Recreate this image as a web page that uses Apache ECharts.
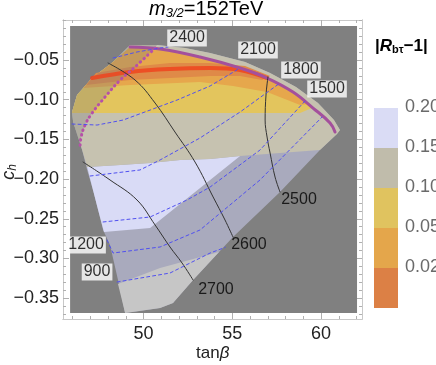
<!DOCTYPE html>
<html>
<head>
<meta charset="utf-8">
<script src="https://cdn.jsdelivr.net/npm/echarts@6/dist/echarts.min.js"></script>
<style>
html, body { margin: 0; background: #fff; }
#chart { width: 436px; height: 365px; }
</style>
</head>
<body>
<div id="chart"></div>
<script>
// plotted range of the scan (tan beta, c_h)
const plotX = [45.86, 62.03];
const plotY = [-0.3686, -0.0072];

// outline of the scanned region
const domain = [[49.24,-0.0311],[50.76,-0.0311],[52.34,-0.0349],[53.75,-0.0412],[55.72,-0.0525],[57.13,-0.0664],
  [58.59,-0.0840],[59.83,-0.1042],[60.73,-0.1256],[61.07,-0.1382],[60.90,-0.1432],[59.94,-0.1634],[57.69,-0.2162],
  [55.04,-0.2729],[52.79,-0.3271],[51.66,-0.3560],[50.93,-0.3623],[48.96,-0.3686],[48.56,-0.3271],[48.11,-0.2830],
  [47.72,-0.2641],[47.44,-0.2389],[47.15,-0.2137],[46.82,-0.1885],[46.54,-0.1634],[46.03,-0.1281],[45.97,-0.1155],
  [46.25,-0.0941],[47.10,-0.0727],[48.28,-0.0525]];

// lower light-grey patch
const greyPatch = [[48.56,-0.3322],[50.93,-0.3120],[54.25,-0.2918],[52.79,-0.3271],[51.66,-0.3560],[50.93,-0.3623],[48.96,-0.3686]];

// |R-1| bands
const band20 = [[46.82,-0.1848],[48.68,-0.1822],[50.37,-0.1797],[52.06,-0.1759],[53.75,-0.1747],[55.44,-0.1709],
  [50.37,-0.2616],[47.77,-0.2666],[47.44,-0.2389],[47.15,-0.2137]];
const band15 = [[46.82,-0.1848],[48.68,-0.1822],[50.37,-0.1797],[52.06,-0.1759],[53.75,-0.1747],[55.44,-0.1709],
  [59.94,-0.1634],[60.90,-0.1432],[61.07,-0.1382],[60.73,-0.1256],[59.83,-0.1042],[58.59,-0.0840],[57.13,-0.0664],
  [55.72,-0.0525],[53.75,-0.0412],[52.34,-0.0349],[50.76,-0.0311],[49.24,-0.0311],[48.28,-0.0525],[47.10,-0.0727],
  [46.25,-0.0941],[45.97,-0.1155],[46.03,-0.1281],[46.54,-0.1634]];
const band10 = [[45.97,-0.1168],[53.18,-0.1168],[58.82,-0.1168],[59.49,-0.1105],[59.55,-0.1105],[58.42,-0.0903],
  [56.96,-0.0727],[55.44,-0.0601],[53.18,-0.0462],[50.93,-0.0361],[49.24,-0.0336],[48.28,-0.0525],[47.10,-0.0727],
  [46.25,-0.0941],[45.97,-0.1155]];
const band05 = [[46.59,-0.0853],[49.24,-0.0815],[53.18,-0.0777],[55.04,-0.0827],[56.96,-0.0903],[58.82,-0.1067],
  [59.27,-0.1054],[58.42,-0.0903],[56.96,-0.0727],[55.44,-0.0601],[53.18,-0.0462],[50.93,-0.0361],[49.24,-0.0336],
  [48.28,-0.0525],[47.10,-0.0727]];
const band02 = [[47.32,-0.0664],[49.24,-0.0588],[51.49,-0.0538],[53.75,-0.0538],[55.72,-0.0576],[57.13,-0.0702],
  [56.68,-0.0752],[55.44,-0.0702],[53.75,-0.0702],[51.49,-0.0727],[49.24,-0.0752],[46.76,-0.0815]];

// R = 1 line, upper boundary and excluded strip
const exactLine = [[47.10,-0.0727],[49.24,-0.0651],[51.49,-0.0613],[53.75,-0.0601],[55.44,-0.0626],[56.96,-0.0727]];
const edgeLine = [[49.24,-0.0336],[50.93,-0.0361],[53.18,-0.0462],[55.44,-0.0601],[56.96,-0.0727],[58.42,-0.0903],
  [59.55,-0.1105],[60.51,-0.1293],[60.79,-0.1407]];
const limitLine = [[50.65,-0.0349],[49.52,-0.0588],[48.68,-0.0752],[47.83,-0.0966],[47.10,-0.1168],[46.70,-0.1319],
  [46.48,-0.1470],[46.42,-0.1596]];
const fringe = limitLine.concat([[46.03,-0.1281],[45.97,-0.1155],[46.25,-0.0941],[47.10,-0.0727],[48.28,-0.0525],
  [49.24,-0.0311],[50.76,-0.0311]]);

// black contours
const solid2500 = [[57.01,-0.0714],[56.90,-0.0941],[56.85,-0.1256],[56.96,-0.1470],[57.13,-0.1671],[57.41,-0.1974],[57.69,-0.2162]];
const solid2600 = [[48.00,-0.0538],[49.52,-0.0752],[50.65,-0.1042],[51.77,-0.1407],[52.90,-0.1785],[53.92,-0.2225],[54.59,-0.2515],[55.04,-0.2729]];
const solid2700 = [[46.59,-0.1785],[48.11,-0.2011],[49.63,-0.2263],[50.65,-0.2578],[51.49,-0.2855],[52.17,-0.3057],[52.79,-0.3271]];

// blue dashed contours
const dash2400 = [[48.28,-0.0475],[49.63,-0.0399],[50.93,-0.0349],[51.38,-0.0336]];
const dash2100 = [[45.97,-0.1306],[47.38,-0.1319],[48.85,-0.1256],[50.37,-0.1130],[51.89,-0.1004],[53.75,-0.0827],[55.44,-0.0601]];
const dash1800 = [[46.99,-0.1961],[48.39,-0.1923],[49.80,-0.1885],[50.93,-0.1759],[53.18,-0.1482],[55.44,-0.1155],[57.69,-0.0790]];
const dash1500 = [[47.72,-0.2540],[50.37,-0.2477],[52.45,-0.2263],[53.75,-0.2100],[56.56,-0.1634],[59.10,-0.1016]];
const dash1200 = [[47.94,-0.2767],[48.28,-0.2931],[50.93,-0.2855],[53.18,-0.2641],[56.56,-0.2011],[60.06,-0.1218]];
const dash900 = [[48.51,-0.3296],[51.49,-0.3183],[53.75,-0.2931],[54.60,-0.2860]];

// contour labels [x, y, text]
const boxedLabels = [[52.45,-0.0223,'2400'],[56.45,-0.0374,'2100'],[58.87,-0.0626,'1800'],[60.34,-0.0865,'1500'],
  [46.76,-0.2830,'1200'],[47.38,-0.3170,'900']];
const plainLabels = [[58.76,-0.2263,'2500'],[55.94,-0.2830,'2600'],[54.08,-0.3397,'2700']];

// axis ticks
const xTicks = [50, 55, 60];
const yTicks = [-0.35, -0.30, -0.25, -0.20, -0.15, -0.10, -0.05];
const xMinor = [46,47,48,49,51,52,53,54,56,57,58,59,61,62];
const yMinor = [-0.37,-0.36,-0.34,-0.33,-0.32,-0.31,-0.29,-0.28,-0.27,-0.26,-0.24,-0.23,-0.22,-0.21,-0.19,-0.18,-0.17,-0.16,-0.14,-0.13,-0.12,-0.11,-0.09,-0.08,-0.07,-0.06,-0.04,-0.03,-0.02,-0.01,0];

// legend
const legendColors = ['#dadcf5', '#c0bcab', '#e0c35f', '#e4a64b', '#dc8045'];
const legendTicks = ['0.20', '0.15', '0.10', '0.05', '0.02'];

const FONT = '"Liberation Sans", Arial, sans-serif';

function area(points, color, opacity, z) {
  return {
    type: 'custom', silent: true, z: z, data: [points[0]],
    renderItem: function (params, api) {
      return { type: 'polygon', shape: { points: points.map(function (p) { return api.coord(p); }) },
        style: { fill: color, opacity: opacity } };
    }
  };
}
function curve(points, color, width, dash, z, smooth, opacity) {
  return {
    type: 'line', data: points, showSymbol: false, silent: true, z: z, smooth: smooth || 0,
    lineStyle: { color: color, width: width, type: dash || 'solid', cap: 'round', opacity: opacity == null ? 1 : opacity }
  };
}
const box = [[plotX[0], plotY[0]], [plotX[1], plotY[0]], [plotX[1], plotY[1]], [plotX[0], plotY[1]]];

const blue = '#5050f0';
const bdash = [3, 3];

const series = [
  area(box, '#808080', 1, 1),
  area(domain, '#a9aabd', 1, 2),
  area(greyPatch, '#c6c6c6', 1, 3),
  area(band20, '#d9dbf6', 1, 3),
  area(band15, '#c6c2b0', 1, 4),
  area(band10, '#e3c55d', 1, 5),
  area(band05, '#e6a74c', 1, 6),
  area(band02, '#df8a48', 1, 7),
  area(fringe, '#7a7a7a', 0.3, 8),
  curve(exactLine, '#f0401c', 4, 'solid', 9, 0.4, 0.8),
  curve(edgeLine, '#a4509c', 3, 'solid', 9, 0.4),
  curve(limitLine, '#b650a8', 3, [0.5, 4.5], 10, 0.4),
  curve(solid2500, '#333', 1, 'solid', 11, 0.4),
  curve(solid2600, '#333', 1, 'solid', 11, 0.4),
  curve(solid2700, '#333', 1, 'solid', 11, 0.4),
  curve(dash2400, blue, 1, bdash, 11),
  curve(dash2100, blue, 1, bdash, 11),
  curve(dash1800, blue, 1, bdash, 11),
  curve(dash1500, blue, 1, bdash, 11),
  curve(dash1200, blue, 1, bdash, 11),
  curve(dash900, blue, 1, bdash, 11),
  {
    type: 'scatter', silent: true, z: 12, symbolSize: 0, data: boxedLabels,
    label: { show: true, position: 'inside', formatter: function (p) { return p.value[2]; },
      backgroundColor: '#fff', padding: [1, 2, 0, 2], color: '#000', fontSize: 16, fontFamily: FONT }
  },
  {
    type: 'scatter', silent: true, z: 12, symbolSize: 0, data: plainLabels,
    label: { show: true, position: 'inside', formatter: function (p) { return p.value[2]; },
      color: '#000', fontSize: 16, fontFamily: FONT }
  }
];

const frameColor = '#c8c8c8';
function xAx(pos, labels, vals, len) {
  return {
    type: 'value', position: pos, min: 45.46, max: 62.31, gridIndex: 0,
    axisLine: { show: true, onZero: false, lineStyle: { color: frameColor } },
    splitLine: { show: false },
    axisTick: { show: true, inside: true, length: len, customValues: vals, lineStyle: { color: '#b0b0b0' } },
    axisLabel: labels ? { show: true, customValues: xTicks, fontSize: 18, color: '#222', fontFamily: FONT, margin: 6 } : { show: false }
  };
}
function yAx(pos, labels, vals, len) {
  return {
    type: 'value', position: pos, min: -0.3762, max: 0.0004, gridIndex: 0,
    axisLine: { show: true, onZero: false, lineStyle: { color: frameColor } },
    splitLine: { show: false },
    axisTick: { show: true, inside: true, length: len, customValues: vals, lineStyle: { color: '#b0b0b0' } },
    axisLabel: labels ? { show: true, customValues: yTicks, fontSize: 18, color: '#222', fontFamily: FONT, margin: 4,
      formatter: function (v) { return v.toFixed(2).replace('-', '\u2212'); } } : { show: false }
  };
}

const legendGraphics = [];
legendColors.forEach(function (c, i) {
  legendGraphics.push({ type: 'rect', left: 374, top: 108 + i * 40, shape: { width: 24, height: 40 }, style: { fill: c } });
  legendGraphics.push({ type: 'text', left: 405, top: 108 + i * 40 - 10,
    style: { text: legendTicks[i], fontSize: 18, fill: '#6a6a6a', font: '18px ' + FONT } });
});

const chart = echarts.init(document.getElementById('chart'), null, { renderer: 'canvas' });
chart.setOption({
  animation: false,
  grid: { left: 63, right: 74, top: 20, bottom: 46 },
  xAxis: [xAx('bottom', true, xTicks, 6), xAx('bottom', false, xMinor, 3), xAx('top', false, xTicks, 6), xAx('top', false, xMinor, 3)],
  yAxis: [yAx('left', true, yTicks, 6), yAx('left', false, yMinor, 3), yAx('right', false, yTicks, 6), yAx('right', false, yMinor, 3)],
  series: series,
  graphic: legendGraphics.concat([
    { type: 'text', left: 149, top: -1, style: {
      text: '{i|m}{s|3/2}=152TeV',
      rich: { i: { fontStyle: 'italic', fontSize: 20, fontFamily: FONT, fill: '#000' },
              s: { fontStyle: 'italic', fontSize: 13, fontFamily: FONT, fill: '#000', padding: [8, 0, 0, 0] } },
      fontSize: 20, fontFamily: FONT, fill: '#000' } },
    { type: 'text', left: 375, top: 38, style: {
      text: '|{i|R}{s|b\u03c4}\u22121|',
      rich: { i: { fontStyle: 'italic', fontWeight: 'bold', fontSize: 17, fontFamily: FONT, fill: '#000' },
              s: { fontWeight: 'bold', fontSize: 11, fontFamily: FONT, fill: '#000', padding: [7, 0, 0, 0] } },
      fontSize: 17, fontWeight: 'bold', fontFamily: FONT, fill: '#000' } },
    { type: 'text', left: 196, top: 345, style: {
      text: 'tan{i|\u03b2}', rich: { i: { fontStyle: 'italic', fontSize: 17, fontFamily: FONT, fill: '#222' } },
      fontSize: 17, fontFamily: FONT, fill: '#222' } },
    { type: 'text', x: 9, y: 172, rotation: Math.PI / 2, style: {
      text: '{i|c}{s|h}', align: 'center', verticalAlign: 'middle',
      rich: { i: { fontStyle: 'italic', fontSize: 18, fontFamily: FONT, fill: '#222' },
        s: { fontStyle: 'italic', fontSize: 12, fontFamily: FONT, fill: '#222', padding: [7, 0, 0, 0] } },
      fontSize: 18, fontFamily: FONT, fill: '#222' } }
  ])
});
</script>
</body>
</html>
